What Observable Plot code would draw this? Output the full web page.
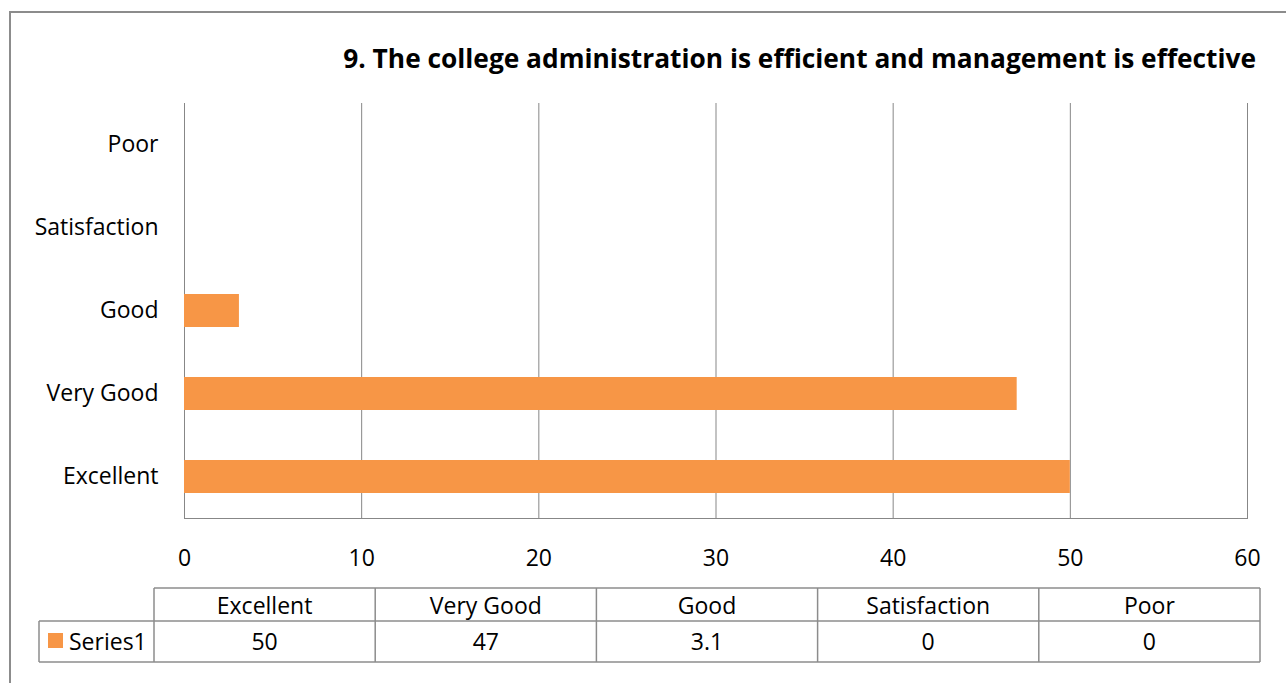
<!DOCTYPE html>
<html>
<head>
<meta charset="utf-8">
<script src="https://cdn.jsdelivr.net/npm/d3@7"></script>
<script src="https://cdn.jsdelivr.net/npm/@observablehq/plot@0.6"></script>
<style>
  html, body { margin: 0; padding: 0; background: #fff; }
  #wrap { position: relative; width: 1286px; height: 683px; overflow: hidden; }
  #border { position: absolute; left: 9px; top: 11px; width: 1320px; height: 720px; border: 2px solid #8c8c8c; box-sizing: border-box; }
  #chart { position: absolute; left: 0; top: 0; }
</style>
</head>
<body>
<div id="wrap">
  <div id="border"></div>
  <div id="chart"></div>
</div>
<script>
const title = "9. The college administration is efficient and management is effective";
const categories = ["Excellent", "Very Good", "Good", "Satisfaction", "Poor"];
const values = [50, 47, 3.1, 0, 0];
const valueLabels = ["50", "47", "3.1", "0", "0"];
const seriesName = "Series1";
const xTicks = [0, 10, 20, 30, 40, 50, 60];

const barColor = "#F79646";
const gridColor = "#878787";
const font = "'Open Sans', 'Noto Sans', sans-serif";
const fs = 23;

const rows = categories.map((c, i) => ({category: c, value: values[i]}));

const W = 1286, H = 683;
const plot = Plot.plot({
  width: W,
  height: H,
  marginLeft: 184,
  marginRight: 39,
  marginTop: 103,
  marginBottom: 165,
  style: {fontFamily: font, fontSize: fs + "px", color: "#000", background: "transparent", overflow: "visible"},
  x: {domain: [0, 60], label: null},
  y: {domain: categories.slice().reverse(), label: null, paddingInner: 0.6, paddingOuter: 0.3},
  marks: [
    Plot.gridX(xTicks, {stroke: gridColor, strokeOpacity: 1, strokeWidth: 1}),
    Plot.frame({anchor: "bottom", stroke: gridColor, strokeWidth: 1}),
    Plot.barX(rows, {x: "value", y: "category", fill: barColor}),
    Plot.axisX(xTicks, {tickSize: 0, tickPadding: 31, fill: "#000", fontSize: fs}),
    Plot.axisY({tickSize: 0, tickPadding: 26, fill: "#000", fontSize: fs})
  ]
});
document.getElementById("chart").appendChild(plot);

const svg = d3.select(plot);

// Title
svg.append("text")
  .attr("x", 1256).attr("y", 68)
  .attr("text-anchor", "end")
  .attr("font-family", font)
  .attr("font-weight", "bold")
  .attr("font-size", 26.3)
  .attr("fill", "#000")
  .text(title);

// Data table
const tblLeft = 39, firstW = 115, tblRight = 1260;
const colW = (tblRight - tblLeft - firstW) / categories.length;
const yTop = 588, yMid = 621, yBot = 662;
const tbl = svg.append("g").attr("stroke", "#8c8c8c").attr("stroke-width", 1.5).attr("fill", "none");
const colEdges = categories.map((_, i) => tblLeft + firstW + i * colW).concat([tblRight]);
tbl.append("line").attr("x1", tblLeft + firstW).attr("x2", tblRight).attr("y1", yTop).attr("y2", yTop);
tbl.append("line").attr("x1", tblLeft).attr("x2", tblRight).attr("y1", yMid).attr("y2", yMid);
tbl.append("line").attr("x1", tblLeft).attr("x2", tblRight).attr("y1", yBot).attr("y2", yBot);
tbl.append("line").attr("x1", tblLeft).attr("x2", tblLeft).attr("y1", yMid).attr("y2", yBot);
colEdges.forEach(x => tbl.append("line").attr("x1", x).attr("x2", x).attr("y1", yTop).attr("y2", yBot));

const tt = svg.append("g").attr("font-family", font).attr("font-size", fs).attr("fill", "#000").attr("text-anchor", "middle");
categories.forEach((c, i) => {
  const cx = tblLeft + firstW + (i + 0.5) * colW;
  tt.append("text").attr("x", cx).attr("y", (yTop + yMid) / 2 + 1).attr("dy", "0.35em").text(c);
  tt.append("text").attr("x", cx).attr("y", (yMid + yBot) / 2).attr("dy", "0.35em").text(valueLabels[i]);
});
svg.append("rect").attr("x", 48).attr("y", 633).attr("width", 15).attr("height", 15).attr("fill", barColor);
svg.append("text").attr("x", 69).attr("y", (yMid + yBot) / 2).attr("dy", "0.35em")
  .attr("text-anchor", "start")
  .attr("font-family", font).attr("font-size", fs).attr("fill", "#000").text(seriesName);
</script>
</body>
</html>
